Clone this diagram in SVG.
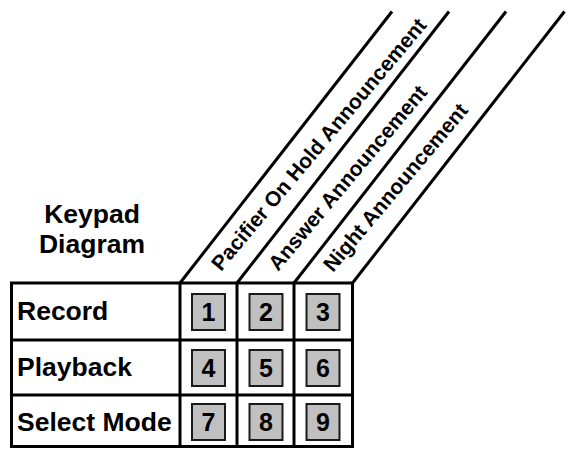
<svg xmlns="http://www.w3.org/2000/svg" width="571" height="449" viewBox="0 0 571 449">
<style>
  .t { font-family: "Liberation Sans", Arial, sans-serif; font-weight: bold; fill: #000; }
  .lbl { font-size: 26.5px; }
  .hdr { font-size: 21px; }
  .key rect { fill: #c0c0c0; stroke: #1a1a1a; stroke-width: 2; }
  .key text { font-family: "Liberation Sans", Arial, sans-serif; font-weight: bold; font-size: 25px; text-anchor: middle; fill: #000; }
  .ln { stroke: #000; stroke-width: 3; fill: none; stroke-linecap: butt; }
</style>
<rect width="571" height="449" fill="#fff"/>

<g id="title">
  <text class="t lbl" x="92" y="223" text-anchor="middle">Keypad</text>
  <text class="t lbl" x="92" y="253" text-anchor="middle">Diagram</text>
</g>

<g id="connectors">
  <rect class="ln" x="11.5" y="283" width="341" height="163.5"/>
  <line class="ln" x1="11.5" y1="340" x2="352.5" y2="340"/>
  <line class="ln" x1="11.5" y1="395" x2="352.5" y2="395"/>
  <line class="ln" x1="180" y1="283" x2="180" y2="446.5"/>
  <line class="ln" x1="237" y1="283" x2="237" y2="446.5"/>
  <line class="ln" x1="294" y1="283" x2="294" y2="446.5"/>
  <line class="ln" x1="180" y1="283" x2="392" y2="11.5"/>
  <line class="ln" x1="237" y1="283" x2="449" y2="11.5"/>
  <line class="ln" x1="294" y1="283" x2="506" y2="11.5"/>
  <line class="ln" x1="352.5" y1="283" x2="564.5" y2="11.5"/>
</g>

<g id="row-record"><text class="t lbl" x="17" y="320">Record</text></g>
<g id="row-playback"><text class="t lbl" x="17" y="376">Playback</text></g>
<g id="row-select-mode"><text class="t lbl" x="17" y="431">Select Mode</text></g>

<g id="col-pacifier"><text class="t hdr" transform="translate(221,272) rotate(-50)">Pacifier On Hold Announcement</text></g>
<g id="col-answer"><text class="t hdr" transform="translate(278,272) rotate(-50)">Answer Announcement</text></g>
<g id="col-night"><text class="t hdr" transform="translate(333,273) rotate(-50)">Night Announcement</text></g>

<g id="key-1" class="key"><rect x="192" y="294" width="33" height="36"/><text x="208.5" y="321">1</text></g>
<g id="key-2" class="key"><rect x="249.5" y="294" width="33" height="36"/><text x="266" y="321">2</text></g>
<g id="key-3" class="key"><rect x="306.5" y="294" width="33" height="36"/><text x="323" y="321">3</text></g>
<g id="key-4" class="key"><rect x="192" y="350" width="33" height="36"/><text x="208.5" y="377">4</text></g>
<g id="key-5" class="key"><rect x="249.5" y="350" width="33" height="36"/><text x="266" y="377">5</text></g>
<g id="key-6" class="key"><rect x="306.5" y="350" width="33" height="36"/><text x="323" y="377">6</text></g>
<g id="key-7" class="key"><rect x="192" y="404" width="33" height="36"/><text x="208.5" y="431">7</text></g>
<g id="key-8" class="key"><rect x="249.5" y="404" width="33" height="36"/><text x="266" y="431">8</text></g>
<g id="key-9" class="key"><rect x="306.5" y="404" width="33" height="36"/><text x="323" y="431">9</text></g>
</svg>
